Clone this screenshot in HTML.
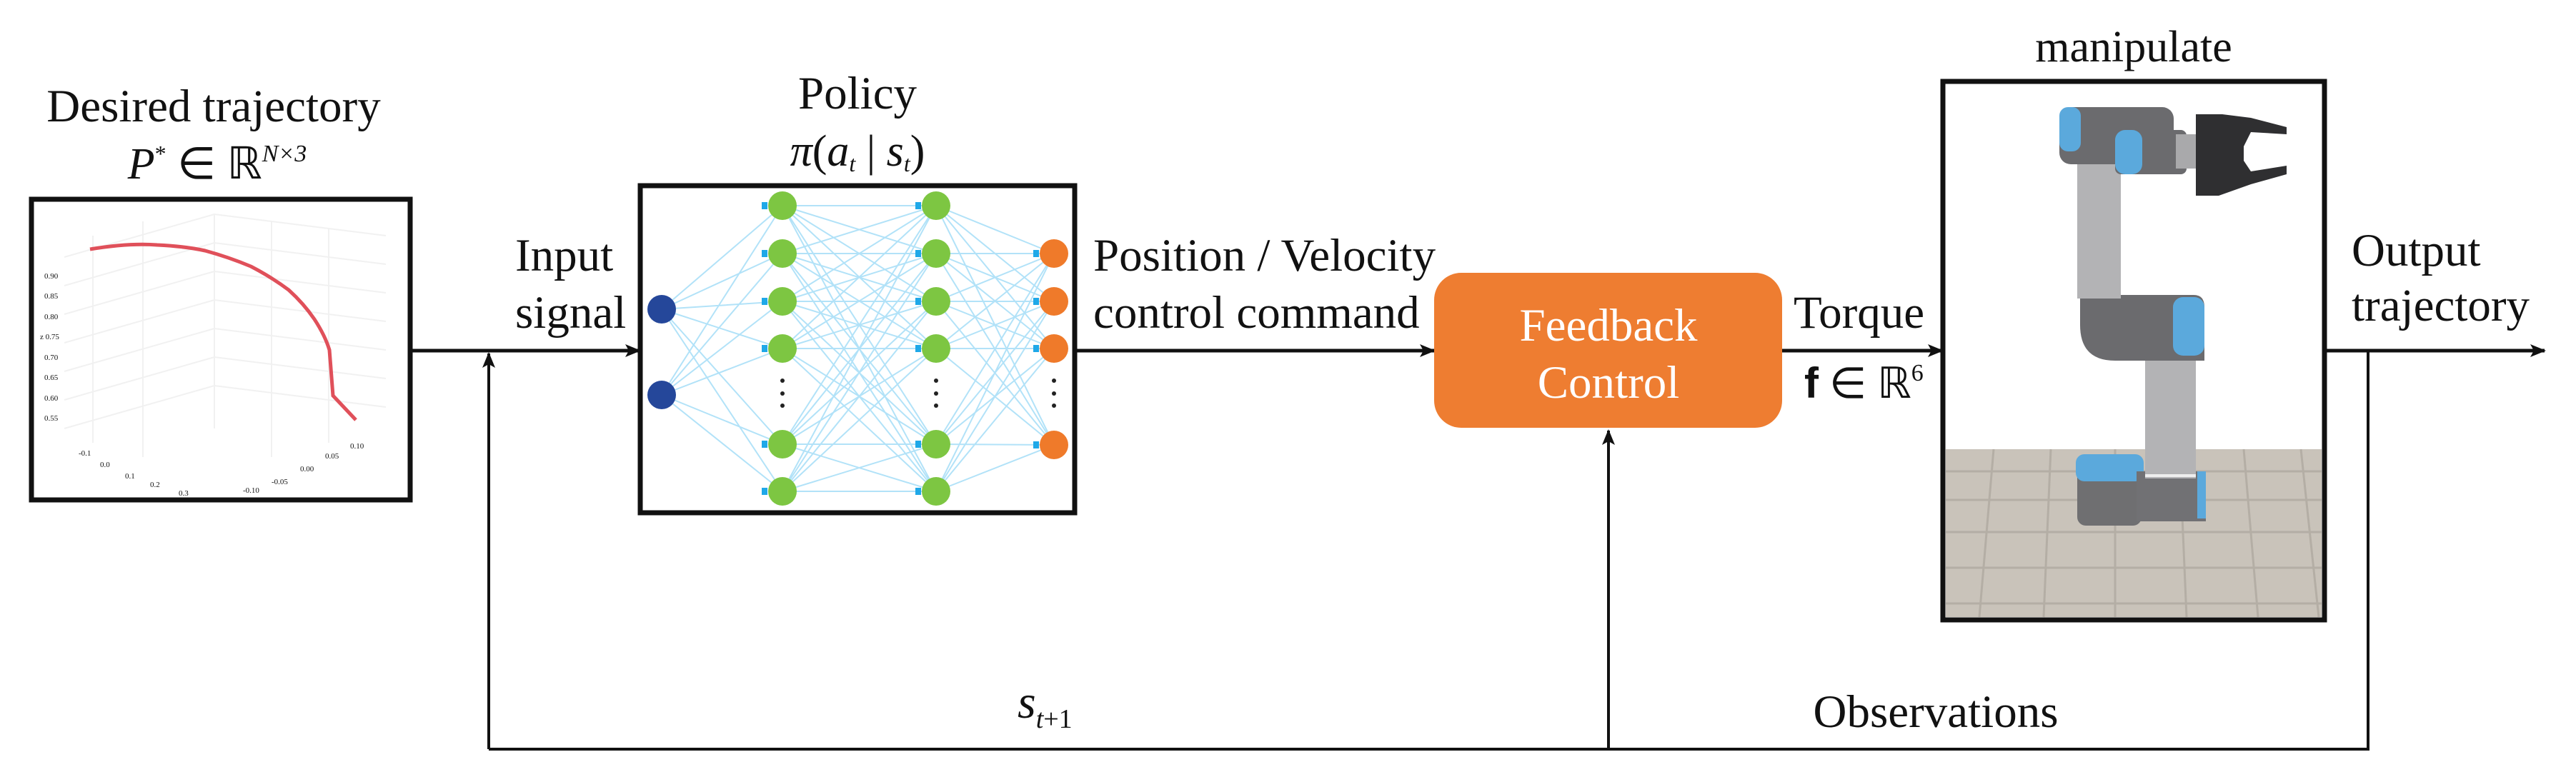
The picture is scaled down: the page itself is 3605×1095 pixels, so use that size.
<!DOCTYPE html>
<html><head><meta charset="utf-8"><style>
html,body{margin:0;padding:0;background:#fff;}
svg{display:block;}
text{font-family:"Liberation Serif",serif;fill:#111;}
</style></head><body>
<svg width="3605" height="1095" viewBox="0 0 3605 1095" xmlns="http://www.w3.org/2000/svg">
<defs>
<marker id="ar2" markerWidth="22" markerHeight="18" refX="20" refY="9" orient="auto" markerUnits="userSpaceOnUse">
<path d="M0,0 L22,9 L0,18 L5,9 Z" fill="#111"/></marker>
</defs>

<!-- Titles -->
<text x="299" y="170" font-size="65" text-anchor="middle">Desired trajectory</text>
<text x="304" y="250" font-size="62" text-anchor="middle"><tspan font-style="italic">P</tspan><tspan dy="-24" font-size="32">*</tspan><tspan dy="24"> ∈ ℝ</tspan><tspan dy="-24" font-size="34" font-style="italic">N×3</tspan></text>
<text x="1200" y="152" font-size="65" text-anchor="middle">Policy</text>
<text x="1200" y="232" font-size="62" text-anchor="middle"><tspan font-style="italic">π</tspan>(<tspan font-style="italic">a</tspan><tspan font-size="32" dy="8" font-style="italic">t</tspan><tspan dy="-8"> | </tspan><tspan font-style="italic">s</tspan><tspan font-size="32" dy="8" font-style="italic">t</tspan><tspan dy="-8">)</tspan></text>
<text x="2986" y="86" font-size="62" text-anchor="middle">manipulate</text>

<!-- Trajectory plot box -->
<rect x="44" y="279" width="530" height="421" fill="#fff" stroke="#111" stroke-width="7"/>
<g stroke="#f1f1f1" stroke-width="2" fill="none">
<path d="M90,360 L300,300 L540,330 M90,400 L300,340 L540,370 M90,440 L300,380 L540,410 M90,480 L300,420 L540,450 M90,520 L300,460 L540,490 M90,560 L300,500 L540,530 M90,600 L300,540 L540,570"/>
<path d="M130,330 L130,620 M200,310 L200,640 M300,300 L300,600 M380,310 L380,640 M460,320 L460,620"/>
</g>
<g font-size="11" fill="#777">
<text x="62" y="390">0.90</text><text x="62" y="418">0.85</text><text x="62" y="447">0.80</text><text x="56" y="475">z 0.75</text><text x="62" y="504">0.70</text><text x="62" y="532">0.65</text><text x="62" y="561">0.60</text><text x="62" y="589">0.55</text>
<text x="110" y="638">-0.1</text><text x="140" y="654">0.0</text><text x="175" y="670">0.1</text><text x="210" y="682">0.2</text><text x="250" y="694">0.3</text>
<text x="340" y="690">-0.10</text><text x="380" y="678">-0.05</text><text x="420" y="660">0.00</text><text x="455" y="642">0.05</text><text x="490" y="628">0.10</text>
</g>
<path d="M126,349 Q180,340 220,343 Q260,345 287,351 Q320,360 351,373 Q380,388 404,406 Q425,425 440,447 Q455,470 461,490 L466,554 L498,588" fill="none" stroke="#e0505a" stroke-width="5"/>

<!-- Main line -->
<line x1="574" y1="491" x2="895" y2="491" stroke="#111" stroke-width="5" marker-end="url(#ar2)"/>
<line x1="684" y1="1049" x2="684" y2="495" stroke="#111" stroke-width="4" marker-end="url(#ar2)"/>
<text x="721" y="379" font-size="65">Input</text>
<text x="721" y="459" font-size="65">signal</text>

<!-- NN box -->
<rect x="896" y="260" width="608" height="458" fill="#fff" stroke="#111" stroke-width="7"/>
<g stroke="#9fdcf7" stroke-width="2" opacity="0.8">
<path d="M926,433 L1095,288 M926,433 L1095,355 M926,433 L1095,422 M926,433 L1095,488 M926,433 L1095,622 M926,433 L1095,688
M926,553 L1095,288 M926,553 L1095,355 M926,553 L1095,422 M926,553 L1095,488 M926,553 L1095,622 M926,553 L1095,688"/>
<path d="M1095,288 L1310,288 M1095,288 L1310,355 M1095,288 L1310,422 M1095,288 L1310,488 M1095,288 L1310,622 M1095,288 L1310,688
M1095,355 L1310,288 M1095,355 L1310,355 M1095,355 L1310,422 M1095,355 L1310,488 M1095,355 L1310,622 M1095,355 L1310,688
M1095,422 L1310,288 M1095,422 L1310,355 M1095,422 L1310,422 M1095,422 L1310,488 M1095,422 L1310,622 M1095,422 L1310,688
M1095,488 L1310,288 M1095,488 L1310,355 M1095,488 L1310,422 M1095,488 L1310,488 M1095,488 L1310,622 M1095,488 L1310,688
M1095,622 L1310,288 M1095,622 L1310,355 M1095,622 L1310,422 M1095,622 L1310,488 M1095,622 L1310,622 M1095,622 L1310,688
M1095,688 L1310,288 M1095,688 L1310,355 M1095,688 L1310,422 M1095,688 L1310,488 M1095,688 L1310,622 M1095,688 L1310,688"/>
<path d="M1310,288 L1475,355 M1310,288 L1475,422 M1310,288 L1475,488 M1310,288 L1475,623
M1310,355 L1475,355 M1310,355 L1475,422 M1310,355 L1475,488 M1310,355 L1475,623
M1310,422 L1475,355 M1310,422 L1475,422 M1310,422 L1475,488 M1310,422 L1475,623
M1310,488 L1475,355 M1310,488 L1475,422 M1310,488 L1475,488 M1310,488 L1475,623
M1310,622 L1475,355 M1310,622 L1475,422 M1310,622 L1475,488 M1310,622 L1475,623
M1310,688 L1475,355 M1310,688 L1475,422 M1310,688 L1475,488 M1310,688 L1475,623"/>
</g>
<g fill="#1fa8e8">
<rect x="1066" y="283" width="8" height="10"/><rect x="1066" y="350" width="8" height="10"/><rect x="1066" y="417" width="8" height="10"/><rect x="1066" y="483" width="8" height="10"/><rect x="1066" y="617" width="8" height="10"/><rect x="1066" y="683" width="8" height="10"/>
<rect x="1281" y="283" width="8" height="10"/><rect x="1281" y="350" width="8" height="10"/><rect x="1281" y="417" width="8" height="10"/><rect x="1281" y="483" width="8" height="10"/><rect x="1281" y="617" width="8" height="10"/><rect x="1281" y="683" width="8" height="10"/>
<rect x="1446" y="350" width="8" height="10"/><rect x="1446" y="417" width="8" height="10"/><rect x="1446" y="483" width="8" height="10"/><rect x="1446" y="618" width="8" height="10"/>
</g>
<g fill="#25479a"><circle cx="926" cy="433" r="20"/><circle cx="926" cy="553" r="20"/></g>
<g fill="#7dc642">
<circle cx="1095" cy="288" r="20"/><circle cx="1095" cy="355" r="20"/><circle cx="1095" cy="422" r="20"/><circle cx="1095" cy="488" r="20"/><circle cx="1095" cy="622" r="20"/><circle cx="1095" cy="688" r="20"/>
<circle cx="1310" cy="288" r="20"/><circle cx="1310" cy="355" r="20"/><circle cx="1310" cy="422" r="20"/><circle cx="1310" cy="488" r="20"/><circle cx="1310" cy="622" r="20"/><circle cx="1310" cy="688" r="20"/>
</g>
<g fill="#ef7a2a"><circle cx="1475" cy="355" r="20"/><circle cx="1475" cy="422" r="20"/><circle cx="1475" cy="488" r="20"/><circle cx="1475" cy="623" r="20"/></g>
<g fill="#222">
<circle cx="1095" cy="533" r="3"/><circle cx="1095" cy="551" r="3"/><circle cx="1095" cy="568" r="3"/>
<circle cx="1310" cy="533" r="3"/><circle cx="1310" cy="551" r="3"/><circle cx="1310" cy="568" r="3"/>
<circle cx="1475" cy="533" r="3"/><circle cx="1475" cy="551" r="3"/><circle cx="1475" cy="568" r="3"/>
</g>

<line x1="1507" y1="491" x2="2007" y2="491" stroke="#111" stroke-width="5" marker-end="url(#ar2)"/>

<!-- Feedback control -->
<rect x="2007" y="382" width="487" height="217" rx="38" fill="#ee7d31"/>
<text x="1530" y="379" font-size="65">Position / Velocity</text>
<text x="1530" y="459" font-size="65">control command</text>
<text x="2251" y="477" font-size="65" text-anchor="middle" style="fill:#fff">Feedback</text>
<text x="2251" y="557" font-size="65" text-anchor="middle" style="fill:#fff">Control</text>
<line x1="2494" y1="491" x2="2718" y2="491" stroke="#111" stroke-width="5" marker-end="url(#ar2)"/>
<text x="2510" y="459" font-size="65">Torque</text>
<text x="2525" y="557" font-size="60"><tspan font-weight="bold" font-family="Liberation Sans">f</tspan> ∈ ℝ<tspan dy="-24" font-size="34">6</tspan></text>
<line x1="2251" y1="1049" x2="2251" y2="603" stroke="#111" stroke-width="4" marker-end="url(#ar2)"/>

<!-- Robot box -->
<rect x="2719" y="114" width="534" height="754" fill="#fff" stroke="#111" stroke-width="7"/>
<rect x="2723" y="629" width="526" height="235" fill="#c9c3ba"/>
<g stroke="#b4aea5" stroke-width="3">
<path d="M2723,660 H3249 M2723,700 H3249 M2723,745 H3249 M2723,795 H3249 M2723,845 H3249"/>
<path d="M2790,629 L2770,864 M2870,629 L2860,864 M2960,629 L2960,864 M3050,629 L3060,864 M3140,629 L3160,864 M3220,629 L3245,864"/>
</g>
<rect x="2907" y="640" width="90" height="96" rx="12" fill="#6f6f71"/>
<rect x="2905" y="636" width="95" height="38" rx="12" fill="#5ba9dc"/>
<rect x="2990" y="660" width="97" height="70" fill="#717174"/>
<rect x="3075" y="660" width="12" height="66" fill="#5ba9dc"/>
<rect x="3002" y="505" width="71" height="165" fill="#b3b3b5"/>
<rect x="3002" y="664" width="71" height="4" fill="#eee"/>
<path d="M2911,413 H3070 Q3085,413 3085,430 V505 H2960 Q2911,505 2911,455 Z" fill="#6b6b6e"/>
<rect x="3041" y="416" width="44" height="82" rx="14" fill="#5ba9dc"/>
<rect x="2907" y="228" width="61" height="190" fill="#b3b3b5"/>
<rect x="2882" y="150" width="160" height="80" rx="16" fill="#6b6b6e"/>
<rect x="2882" y="150" width="30" height="62" rx="12" fill="#5ba9dc"/>
<rect x="2960" y="182" width="100" height="62" rx="8" fill="#6b6b6e"/>
<rect x="2960" y="182" width="38" height="62" rx="14" fill="#5ba9dc"/>
<rect x="3045" y="188" width="30" height="48" fill="#a9a9ab"/>
<path d="M3073,160 H3110 L3150,165 L3200,178 L3200,188 L3150,185 L3140,205 L3140,225 L3150,240 L3200,232 L3200,244 L3150,258 L3105,274 H3073 Z" fill="#2f2f31"/>

<!-- output -->
<line x1="3253" y1="491" x2="3561" y2="491" stroke="#111" stroke-width="5" marker-end="url(#ar2)"/>
<text x="3291" y="372" font-size="65">Output</text>
<text x="3291" y="449" font-size="65">trajectory</text>

<!-- feedback loop -->
<polyline points="3314,491 3314,1049 684,1049" fill="none" stroke="#111" stroke-width="4"/>
<text x="2709" y="1018" font-size="65" text-anchor="middle">Observations</text>
<text x="1424" y="1005" font-size="66" font-style="italic">s<tspan dy="14" font-size="38">t</tspan><tspan font-size="38" font-style="normal">+1</tspan></text>
</svg>
</body></html>
